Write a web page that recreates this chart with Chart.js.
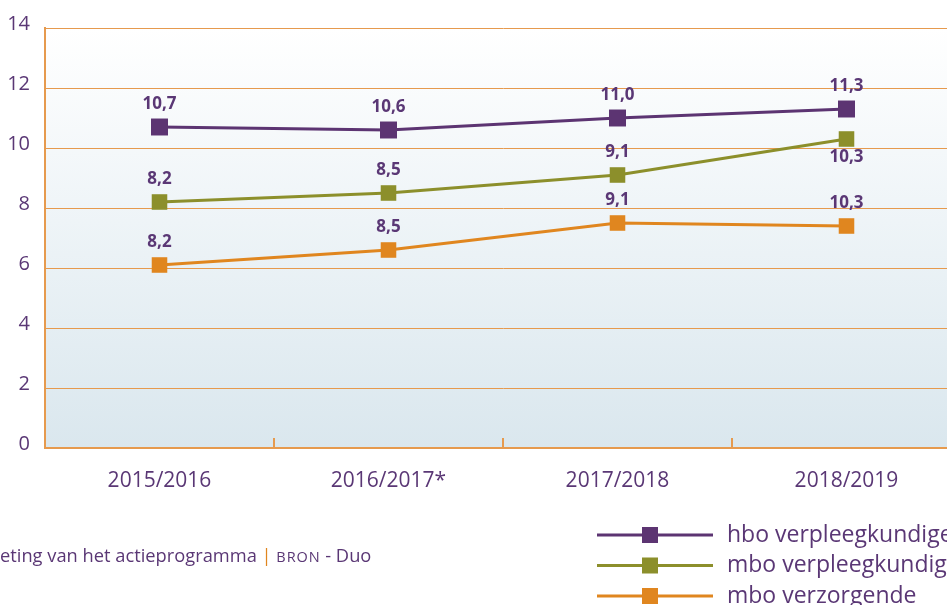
<!DOCTYPE html>
<html>
<head>
<meta charset="utf-8">
<script src="https://cdn.jsdelivr.net/npm/chart.js@4"></script>
<style>
  html, body { margin: 0; padding: 0; overflow: hidden; background: #fff; width: 947px; height: 605px; }
  #wrap { position: absolute; left: 0; top: 0; width: 980px; height: 605px; }
  #note { position: absolute; left: 0; top: 542px; font-family: "Open Sans", sans-serif; font-size: 18.3px; color: #5a3775; white-space: nowrap; }
  #note .bar { color: #e0861f; }
  #note .sc { font-size: 14.5px; letter-spacing: 0.9px; }
</style>
</head>
<body>
<div id="wrap"><canvas id="chart" width="980" height="605"></canvas></div>
<div id="note">eting van het actieprogramma <span class="bar">|</span> <span class="sc">BRON</span> - Duo</div>
<script>
// data
const years = ['2015/2016', '2016/2017*', '2017/2018', '2018/2019'];
const hboVerpleegkundige = [10.7, 10.6, 11.0, 11.3];
const mboVerpleegkundige = [8.2, 8.5, 9.1, 10.3];
const mboVerzorgende = [6.1, 6.6, 7.5, 7.4];
// value labels as printed in the source
const hboLabels = ['10,7', '10,6', '11,0', '11,3'];
const mboVplLabels = ['8,2', '8,5', '9,1', '10,3'];
const mboVzLabels = ['8,2', '8,5', '9,1', '10,3'];
const yTicks = [0, 2, 4, 6, 8, 10, 12, 14];

const textColor = '#5a3775';
const gridColor = '#e69a4e';

// gradient behind the plot area
const plotBackground = {
    id: 'plotBackground',
    beforeDraw(chart) {
        const { ctx, chartArea } = chart;
        const g = ctx.createLinearGradient(0, chartArea.top, 0, chartArea.bottom);
        g.addColorStop(0, '#ffffff');
        g.addColorStop(1, '#dae7ee');
        ctx.save();
        ctx.fillStyle = g;
        ctx.fillRect(chartArea.left, chartArea.top, chartArea.right - chartArea.left, chartArea.bottom - chartArea.top);
        ctx.restore();
    }
};

// small inward ticks between categories
const innerTicks = {
    id: 'innerTicks',
    afterDraw(chart) {
        const { ctx, chartArea } = chart;
        const x = chart.scales.x;
        ctx.save();
        ctx.strokeStyle = gridColor;
        ctx.lineWidth = 2;
        for (let i = 1; i < years.length; i++) {
            const px = Math.round((x.getPixelForValue(i - 1) + x.getPixelForValue(i)) / 2);
            ctx.beginPath();
            ctx.moveTo(px, chartArea.bottom - 10);
            ctx.lineTo(px, chartArea.bottom);
            ctx.stroke();
        }
        ctx.restore();
    }
};

// value labels over the points
const valueLabels = {
    id: 'valueLabels',
    afterDatasetsDraw(chart) {
        const { ctx } = chart;
        ctx.save();
        ctx.font = 'bold 17px "Open Sans", sans-serif';
        ctx.fillStyle = textColor;
        ctx.textAlign = 'center';
        ctx.textBaseline = 'middle';
        chart.data.datasets.forEach((ds, di) => {
            chart.getDatasetMeta(di).data.forEach((pt, i) => {
                const below = ds.labelBelow && ds.labelBelow[i];
                ctx.fillText(ds.valueLabels[i], pt.x, pt.y + (below ? 18 : -23));
            });
        });
        ctx.restore();
    }
};

// legend with line + square marker
const lineLegend = {
    id: 'lineLegend',
    afterDraw(chart) {
        const { ctx } = chart;
        ctx.save();
        ctx.font = '23px "Open Sans", sans-serif';
        ctx.textBaseline = 'middle';
        chart.data.datasets.forEach((ds, i) => {
            const y = 535 + i * 30.5;
            ctx.strokeStyle = ds.borderColor;
            ctx.lineWidth = 3;
            ctx.beginPath();
            ctx.moveTo(597, y);
            ctx.lineTo(713, y);
            ctx.stroke();
            ctx.fillStyle = ds.borderColor;
            ctx.fillRect(642, y - 8, 16, 16);
            ctx.fillStyle = textColor;
            ctx.fillText(ds.label, 727, y);
        });
        ctx.restore();
    }
};

const series = (label, data, color, labels, radius) => ({
    label: label,
    data: data,
    valueLabels: labels,
    borderColor: color,
    backgroundColor: color,
    pointBackgroundColor: color,
    pointBorderWidth: 0,
    pointStyle: 'rect',
    pointRadius: radius,
    pointHoverRadius: radius,
    borderWidth: 3,
    tension: 0
});

const hbo = series('hbo verpleegkundige', hboVerpleegkundige, '#5c3472', hboLabels, 12);
const mboVpl = series('mbo verpleegkundige', mboVerpleegkundige, '#8c8f2b', mboVplLabels, 11);
mboVpl.labelBelow = [false, false, false, true];
const mboVz = series('mbo verzorgende', mboVerzorgende, '#e0861f', mboVzLabels, 11);

new Chart(document.getElementById('chart'), {
    type: 'line',
    data: { labels: years, datasets: [hbo, mboVpl, mboVz] },
    options: {
        responsive: false,
        animation: false,
        layout: { padding: { top: 28, right: 19, bottom: 112, left: 0 } },
        plugins: { legend: { display: false }, tooltip: { enabled: false } },
        scales: {
            x: {
                offset: true,
                grid: { display: false },
                border: { color: gridColor, width: 2 },
                ticks: { color: textColor, font: { family: 'Open Sans', size: 21 }, padding: 12 },
                afterFit: (s) => { s.height = 45; }
            },
            y: {
                min: 0,
                max: 14,
                afterBuildTicks: (s) => { s.ticks = yTicks.map(v => ({ value: v })); },
                grid: { color: gridColor, lineWidth: 1, drawTicks: false },
                border: { color: gridColor, width: 2 },
                ticks: { color: textColor, font: { family: 'Open Sans', size: 20 }, padding: 15, labelOffset: -4 },
                afterFit: (s) => { s.width = 45; }
            }
        }
    },
    plugins: [plotBackground, innerTicks, valueLabels, lineLegend]
});
</script>
</body>
</html>
